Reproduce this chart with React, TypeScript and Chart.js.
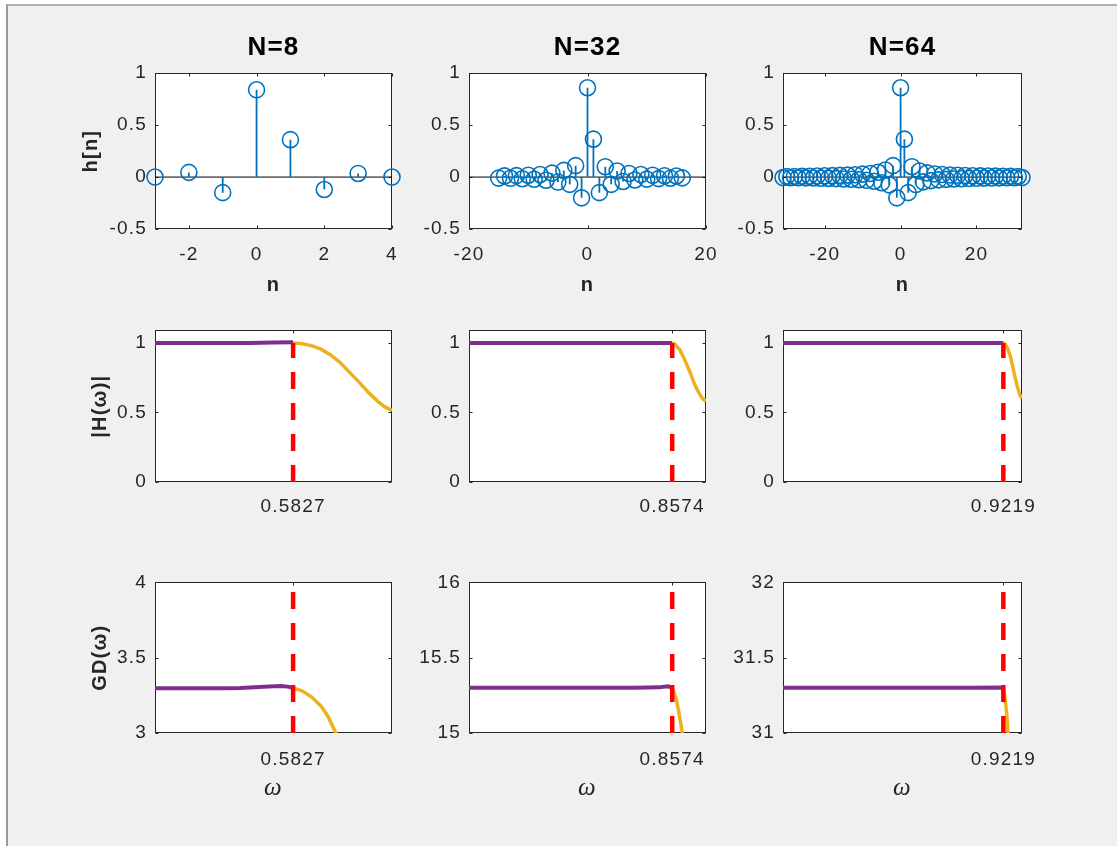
import React, { useEffect, useRef } from "react";
import { Chart, registerables } from "chart.js";

Chart.register(...registerables);

// ---------------- data ----------------
const titles = ["N=8", "N=32", "N=64"];
const cutoffs = [0.5827, 0.8574, 0.9219];

// impulse responses h[n]
const n8 = [-3, -2, -1, 0, 1, 2, 3, 4];
const h8 = [0, 0.045, -0.15, 0.84, 0.36, -0.12, 0.035, 0];

const n32 = [-15, -14, -13, -12, -11, -10, -9, -8, -7, -6, -5, -4, -3, -2, -1, 0, 1, 2, 3, 4, 5, 6, 7, 8, 9, 10, 11, 12, 13, 14, 15, 16];
const h32 = [-0.01, 0.011, -0.012, 0.014, -0.016, 0.018, -0.021, 0.025, -0.03, 0.038, -0.048, 0.064, -0.07, 0.11, -0.2, 0.86, 0.365, -0.15, 0.1, -0.07, 0.058, -0.042, 0.035, -0.028, 0.024, -0.02, 0.017, -0.015, 0.013, -0.011, 0.01, -0.008];

const n64 = [-31, -30, -29, -28, -27, -26, -25, -24, -23, -22, -21, -20, -19, -18, -17, -16, -15, -14, -13, -12, -11, -10, -9, -8, -7, -6, -5, -4, -3, -2, -1, 0, 1, 2, 3, 4, 5, 6, 7, 8, 9, 10, 11, 12, 13, 14, 15, 16, 17, 18, 19, 20, 21, 22, 23, 24, 25, 26, 27, 28, 29, 30, 31, 32];
const h64 = [-0.005, 0.005, -0.006, 0.006, -0.007, 0.007, -0.008, 0.008, -0.009, 0.01, -0.011, 0.012, -0.013, 0.014, -0.015, 0.016, -0.018, 0.019, -0.021, 0.023, -0.025, 0.028, -0.031, 0.035, -0.04, 0.046, -0.055, 0.068, -0.075, 0.11, -0.2, 0.86, 0.365, -0.15, 0.1, -0.072, 0.058, -0.046, 0.04, -0.034, 0.03, -0.027, 0.024, -0.022, 0.02, -0.018, 0.017, -0.016, 0.015, -0.014, 0.013, -0.012, 0.011, -0.01, 0.01, -0.009, 0.009, -0.008, 0.008, -0.007, 0.007, -0.006, 0.006, -0.005];

// |H(w)| passband / transition
const w8Pass = [0, 0.1, 0.2, 0.3, 0.4, 0.5, 0.5827];
const mag8Pass = [1.0, 1.0, 1.0, 1.0, 1.0, 1.003, 1.004];
const w8Stop = [0.5827, 0.62, 0.66, 0.7, 0.74, 0.78, 0.82, 0.86, 0.9, 0.94, 0.97, 1.0];
const mag8Stop = [1.0, 0.995, 0.98, 0.955, 0.915, 0.86, 0.79, 0.72, 0.645, 0.58, 0.54, 0.515];

const w32Pass = [0, 0.2, 0.4, 0.6, 0.8, 0.8574];
const mag32Pass = [1.0, 1.0, 1.0, 1.0, 1.0, 1.0];
const w32Stop = [0.8574, 0.87, 0.89, 0.91, 0.93, 0.95, 0.97, 0.985, 1.0];
const mag32Stop = [1.0, 0.99, 0.95, 0.88, 0.8, 0.71, 0.64, 0.6, 0.58];

const w64Pass = [0, 0.2, 0.4, 0.6, 0.8, 0.9219];
const mag64Pass = [1.0, 1.0, 1.0, 1.0, 1.0, 1.0];
const w64Stop = [0.9219, 0.93, 0.94, 0.95, 0.96, 0.97, 0.98, 0.99, 1.0];
const mag64Stop = [1.0, 0.99, 0.96, 0.91, 0.84, 0.76, 0.69, 0.63, 0.6];

// group delay GD(w)
const gw8Pass = [0, 0.1, 0.2, 0.3, 0.36, 0.42, 0.48, 0.53, 0.56, 0.5827];
const gd8Pass = [3.297, 3.297, 3.297, 3.297, 3.298, 3.303, 3.308, 3.312, 3.308, 3.3];
const gw8Stop = [0.5827, 0.62, 0.66, 0.7, 0.73, 0.76, 0.79];
const gd8Stop = [3.3, 3.28, 3.24, 3.18, 3.11, 3.01, 2.9];

const gw32Pass = [0, 0.2, 0.4, 0.6, 0.7, 0.8, 0.84, 0.8574];
const gd32Pass = [15.3, 15.3, 15.3, 15.3, 15.301, 15.303, 15.31, 15.3];
const gw32Stop = [0.8574, 0.865, 0.875, 0.885, 0.895, 0.905];
const gd32Stop = [15.3, 15.27, 15.22, 15.14, 15.05, 14.95];

const gw64Pass = [0, 0.2, 0.4, 0.6, 0.8, 0.9, 0.9219];
const gd64Pass = [31.3, 31.3, 31.3, 31.3, 31.3, 31.302, 31.3];
const gw64Stop = [0.9219, 0.93, 0.936, 0.94, 0.9415, 0.945];
const gd64Stop = [31.3, 31.22, 31.13, 31.04, 31.0, 30.9];

// axis ranges and ticks
const stemXRanges = [[-3, 4], [-20, 20], [-31, 32]];
const stemXTicks = [[-2, 0, 2, 4], [-20, 0, 20], [-20, 0, 20]];
const stemYTicks = [-0.5, 0, 0.5, 1];
const magYTicks = [0, 0.5, 1];
const magYMax = 1.09;
const gdYRanges = [[3, 4], [15, 16], [31, 32]];
const gdYTicks = [[3, 3.5, 4], [15, 15.5, 16], [31, 31.5, 32]];

// ---------------- styling / layout ----------------
const FONT = "'Liberation Sans', Arial, Helvetica, sans-serif";
const SERIF = "'Liberation Serif', 'DejaVu Serif', serif";
const AX = "#262626";
const BLUE = "#0072BD";
const PURPLE = "#7E2F8E";
const YELLOW = "#EDB120";
const RED = "#FF0000";

const COLS = [[155, 392], [469, 706], [783, 1022]];
const ROWS = [[73, 229], [325, 482], [577, 733]];
const L = 85;
const R = 40;
const B = 80;

const pts = (xs: number[], ys: number[]) => xs.map((x, i) => ({ x, y: ys[i] }));

function stemDatasets(ns: number[], hs: number[], xr: number[]) {
  const stems: any[] = [];
  ns.forEach((n, i) => {
    stems.push({ x: n, y: 0 }, { x: n, y: hs[i] }, { x: n, y: null });
  });
  return [
    {
      data: pts(ns, hs),
      showLine: false,
      pointStyle: "circle",
      pointRadius: 8,
      pointBorderWidth: 1.6,
      pointBorderColor: BLUE,
      pointBackgroundColor: "rgba(0,0,0,0)",
      borderColor: BLUE,
      backgroundColor: "rgba(0,0,0,0)",
      clip: false,
      order: 0,
    },
    { data: stems, borderColor: BLUE, borderWidth: 1.8, pointRadius: 0, spanGaps: false, order: 1 },
    { data: [{ x: xr[0], y: 0 }, { x: xr[1], y: 0 }], borderColor: "#000", borderWidth: 1, pointRadius: 0, order: 2 },
  ];
}

function bandDatasets(pass: any[], stop: any[], wc: number, y0: number, y1: number) {
  return [
    { data: [{ x: wc, y: y0 }, { x: wc, y: y1 }], borderColor: RED, borderWidth: 4.5, borderDash: [17, 14], pointRadius: 0, order: 0 },
    { data: stop, borderColor: YELLOW, borderWidth: 3.5, pointRadius: 0, order: 1 },
    { data: pass, borderColor: PURPLE, borderWidth: 4, pointRadius: 0, order: 2 },
  ];
}

const SPACING = "1.2px";

const boxPlugin = {
  id: "mbox",
  beforeLayout(chart: any) {
    chart.ctx.letterSpacing = SPACING;
  },
  beforeDraw(chart: any) {
    chart.ctx.letterSpacing = SPACING;
  },
  beforeDatasetsDraw(chart: any) {
    const { ctx, chartArea: a, scales } = chart;
    ctx.save();
    ctx.fillStyle = "#ffffff";
    ctx.fillRect(a.left, a.top, a.right - a.left, a.bottom - a.top);
    ctx.strokeStyle = AX;
    ctx.lineWidth = 1;
    const l = Math.round(a.left) + 0.5;
    const t = Math.round(a.top) + 0.5;
    const r = Math.round(a.right) - 0.5;
    const b = Math.round(a.bottom) - 0.5;
    ctx.strokeRect(l, t, r - l, b - t);
    const tl = 3;
    ctx.beginPath();
    scales.x.ticks.forEach((tk: any) => {
      const px = Math.round(scales.x.getPixelForValue(tk.value)) + 0.5;
      ctx.moveTo(px, b);
      ctx.lineTo(px, b - tl);
      ctx.moveTo(px, t);
      ctx.lineTo(px, t + tl);
    });
    scales.y.ticks.forEach((tk: any) => {
      const py = Math.round(scales.y.getPixelForValue(tk.value)) + 0.5;
      ctx.moveTo(l, py);
      ctx.lineTo(l + tl, py);
      ctx.moveTo(r, py);
      ctx.lineTo(r - tl, py);
    });
    ctx.stroke();
    ctx.restore();
  },
};

type Spec = {
  row: number;
  col: number;
  datasets: any[];
  xr: number[];
  yr: number[];
  xTicks: number[];
  yTicks: number[];
  title?: string;
  xTitle?: string;
  xTitleSerif?: boolean;
  yTitle?: string;
};

const X_H = [68, 50, 70];
const X_PAD = [14, 13, 15];
const PAD_L = [9, 18, 18];

function Panel({ spec }: { spec: Spec }) {
  const ref = useRef<HTMLCanvasElement>(null);
  const [x0, x1] = COLS[spec.col];
  const [y0, y1] = ROWS[spec.row];
  const topSpace = spec.title ? 51 : 14;
  const w = x1 - x0 + L + R;
  const h = y1 - y0 + topSpace + B;
  const padL = PAD_L[spec.row];
  const xH = X_H[spec.row];

  useEffect(() => {
    const chart = new Chart(ref.current as HTMLCanvasElement, {
      type: "line",
      data: { datasets: spec.datasets },
      options: {
        animation: false,
        responsive: false,
        events: [],
        layout: { padding: { left: padL, right: R, top: spec.title ? 10 : 14, bottom: B - xH } },
        plugins: {
          legend: { display: false },
          tooltip: { enabled: false },
          title: spec.title
            ? {
                display: true,
                text: spec.title,
                color: "#000",
                fullSize: false,
                font: { family: FONT, size: 26, weight: "bold", lineHeight: 1.2 },
                padding: { top: 0, bottom: 10 },
              }
            : { display: false },
        },
        scales: {
          x: {
            type: "linear",
            min: spec.xr[0],
            max: spec.xr[1],
            grid: { display: false, drawTicks: false },
            border: { display: false },
            ticks: {
              color: AX,
              font: { family: FONT, size: 19 },
              padding: X_PAD[spec.row],
              maxRotation: 0,
              autoSkip: false,
              callback: (v: any) => String(v),
            },
            afterBuildTicks: (s: any) => {
              s.ticks = spec.xTicks.map((v) => ({ value: v }));
            },
            afterFit: (s: any) => {
              s.height = xH;
            },
            title: spec.xTitle
              ? {
                  display: true,
                  text: spec.xTitle,
                  color: AX,
                  padding: 0,
                  font: spec.xTitleSerif
                    ? { family: SERIF, size: 25, style: "italic", lineHeight: 1.2 }
                    : { family: FONT, size: 20, weight: "bold", lineHeight: 1.2 },
                }
              : { display: false },
          },
          y: {
            type: "linear",
            min: spec.yr[0],
            max: spec.yr[1],
            grid: { display: false, drawTicks: false },
            border: { display: false },
            ticks: {
              color: AX,
              font: { family: FONT, size: 19 },
              padding: 8,
              autoSkip: false,
              callback: (v: any) => String(v),
            },
            afterBuildTicks: (s: any) => {
              s.ticks = spec.yTicks.map((v) => ({ value: v }));
            },
            afterFit: (s: any) => {
              s.width = L - padL;
            },
            title: spec.yTitle
              ? {
                  display: true,
                  text: spec.yTitle,
                  color: AX,
                  padding: 0,
                  font: { family: FONT, size: 20, weight: "bold", lineHeight: 1.2 },
                }
              : { display: false },
          },
        },
      } as any,
      plugins: [boxPlugin],
    });
    return () => chart.destroy();
  }, []);

  return (
    <canvas
      ref={ref}
      width={w}
      height={h}
      style={{ position: "absolute", left: x0 - L, top: y0 - topSpace, width: w, height: h }}
    />
  );
}

const stemData = [
  [n8, h8],
  [n32, h32],
  [n64, h64],
];
const magData = [
  [pts(w8Pass, mag8Pass), pts(w8Stop, mag8Stop)],
  [pts(w32Pass, mag32Pass), pts(w32Stop, mag32Stop)],
  [pts(w64Pass, mag64Pass), pts(w64Stop, mag64Stop)],
];
const gdData = [
  [pts(gw8Pass, gd8Pass), pts(gw8Stop, gd8Stop)],
  [pts(gw32Pass, gd32Pass), pts(gw32Stop, gd32Stop)],
  [pts(gw64Pass, gd64Pass), pts(gw64Stop, gd64Stop)],
];

const specs: Spec[] = [];
for (let c = 0; c < 3; c++) {
  specs.push({
    row: 0,
    col: c,
    datasets: stemDatasets(stemData[c][0], stemData[c][1], stemXRanges[c]),
    xr: stemXRanges[c],
    yr: [-0.5, 1],
    xTicks: stemXTicks[c],
    yTicks: stemYTicks,
    title: titles[c],
    xTitle: "n",
    yTitle: c === 0 ? "h[n]" : undefined,
  });
  specs.push({
    row: 1,
    col: c,
    datasets: bandDatasets(magData[c][0], magData[c][1], cutoffs[c], 0, 1),
    xr: [0, 1],
    yr: [0, magYMax],
    xTicks: [cutoffs[c]],
    yTicks: magYTicks,
    yTitle: c === 0 ? "|H(ω)|" : undefined,
  });
  specs.push({
    row: 2,
    col: c,
    datasets: bandDatasets(gdData[c][0], gdData[c][1], cutoffs[c], gdYRanges[c][0], gdYRanges[c][1]),
    xr: [0, 1],
    yr: gdYRanges[c],
    xTicks: [cutoffs[c]],
    yTicks: gdYTicks[c],
    xTitle: "ω",
    xTitleSerif: true,
    yTitle: c === 0 ? "GD(ω)" : undefined,
  });
}

export default function App() {
  return (
    <div style={{ position: "fixed", left: 0, top: 0, width: 1117, height: 846, background: "#ffffff", overflow: "hidden" }}>
      <div
        style={{
          position: "absolute",
          left: 6,
          top: 4,
          right: 0,
          bottom: 0,
          background: "#f0f0f0",
          borderTop: "2px solid #b0b0b0",
          borderLeft: "2px solid #9a9a9a",
        }}
      />
      {specs.map((s, i) => (
        <Panel key={i} spec={s} />
      ))}
    </div>
  );
}
